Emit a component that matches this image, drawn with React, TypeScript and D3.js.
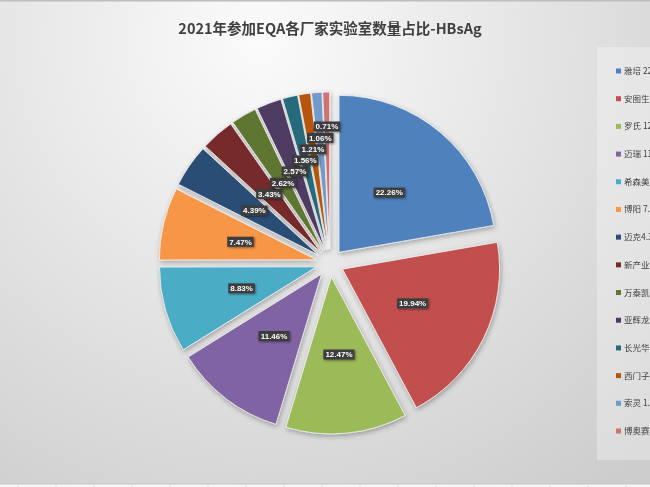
import * as d3 from 'd3';
import * as React from 'react';

const { useRef, useEffect } = React;

const width = 650;
const height = 487;

const title = '2021年参加EQA各厂家实验室数量占比-HBsAg';

const vendors = [
  '雅培',
  '安图生物',
  '罗氏',
  '迈瑞',
  '希森美康',
  '博阳',
  '迈克',
  '新产业',
  '万泰凯瑞',
  '亚辉龙',
  '长光华医',
  '西门子',
  '索灵',
  '博奥赛斯',
];

const shares = [22.26, 19.94, 12.47, 11.46, 8.83, 7.47, 4.39, 3.43, 2.62, 2.57, 1.56, 1.21, 1.06, 0.71];

const colors = [
  '#4f81bd',
  '#c0504d',
  '#9bbb59',
  '#8064a2',
  '#4bacc6',
  '#f79646',
  '#2c4d75',
  '#772c2a',
  '#5f7530',
  '#4d3b62',
  '#276a7c',
  '#b65708',
  '#729aca',
  '#cd7371',
];

const center = { x: 330, y: 263 };
const radius = 157;
const explode = 14;
const labelRadius = 92;

const legendBox = { x: 597, y: 47, w: 70, h: 413 };

export default () => {
  const rootRef = useRef<HTMLDivElement>(null);

  useEffect(() => {
    const rootEl = rootRef.current;
    if (!rootEl) return;
    d3.select(rootEl).selectAll('*').remove();

    const svg = d3
      .select(rootEl)
      .append('svg')
      .attr('width', width)
      .attr('height', height)
      .style('position', 'fixed')
      .style('left', 0)
      .style('top', 0)
      .attr('font-family', '"Noto Sans CJK SC", "Noto Sans", sans-serif');

    const defs = svg.append('defs');
    const bg = defs
      .append('radialGradient')
      .attr('id', 'bg')
      .attr('gradientUnits', 'userSpaceOnUse')
      .attr('cx', 260)
      .attr('cy', 40)
      .attr('r', 560);
    bg.append('stop').attr('offset', 0).attr('stop-color', '#fbfbfb');
    bg.append('stop').attr('offset', 1).attr('stop-color', '#cdcdcd');

    const shadow = defs.append('filter').attr('id', 'shadow').attr('x', '-20%').attr('y', '-20%').attr('width', '140%').attr('height', '140%');
    shadow
      .append('feDropShadow')
      .attr('dx', 1)
      .attr('dy', 2)
      .attr('stdDeviation', 2.5)
      .attr('flood-color', '#000')
      .attr('flood-opacity', 0.3);

    const boxShadow = defs.append('filter').attr('id', 'boxShadow').attr('x', '-20%').attr('y', '-40%').attr('width', '150%').attr('height', '190%');
    boxShadow
      .append('feDropShadow')
      .attr('dx', 1)
      .attr('dy', 1)
      .attr('stdDeviation', 0.8)
      .attr('flood-color', '#000')
      .attr('flood-opacity', 0.45);

    svg.append('rect').attr('width', width).attr('height', height).attr('fill', 'url(#bg)');
    svg.append('rect').attr('width', width).attr('height', 1.5).attr('fill', '#bdbdbd');

    // spreadsheet strip under the chart
    svg.append('rect').attr('y', 484).attr('width', width).attr('height', 3).attr('fill', '#f7f7f7');
    svg.append('line').attr('x1', 0).attr('x2', width).attr('y1', 484).attr('y2', 484).attr('stroke', '#c6c6c6');
    svg
      .append('g')
      .selectAll('line')
      .data(d3.range(18, width, 38))
      .join('line')
      .attr('x1', d => d)
      .attr('x2', d => d)
      .attr('y1', 484)
      .attr('y2', 487)
      .attr('stroke', '#dadada');

    svg
      .append('text')
      .attr('x', 330)
      .attr('y', 34)
      .attr('text-anchor', 'middle')
      .attr('font-size', 14.5)
      .attr('font-weight', 'bold')
      .attr('fill', '#404040')
      .text(title);

    const pie = d3
      .pie<number>()
      .sort(null)
      .value(d => d);
    const arcs = pie(shares);
    const arc = d3.arc<d3.PieArcDatum<number>>().innerRadius(0).outerRadius(radius);
    const mid = (d: d3.PieArcDatum<number>) => (d.startAngle + d.endAngle) / 2;

    const pieG = svg
      .append('g')
      .attr('transform', `translate(${center.x},${center.y})`)
      .attr('filter', 'url(#shadow)');

    pieG
      .selectAll('path')
      .data(arcs)
      .join('path')
      .attr('transform', d => `translate(${explode * Math.sin(mid(d))},${-explode * Math.cos(mid(d))})`)
      .attr('d', arc)
      .attr('fill', (d, i) => colors[i])
      .attr('stroke', '#f2f2f2')
      .attr('stroke-width', 0.8);

    // data labels: best-fit, pushed outward along the ray when they collide
    const fmt = (v: number) => `${v.toFixed(2)}%`;
    const boxH = 10;
    const placed: { x: number; y: number; w: number }[] = [];
    const labels = arcs.map(d => {
      const a = mid(d);
      const w = fmt(d.data).length * 4.7 + 3;
      let r = labelRadius;
      const pos = () => ({ x: r * Math.sin(a), y: -r * Math.cos(a) });
      let p = pos();
      const hits = () =>
        placed.some(q => Math.abs(q.x - p.x) < (q.w + w) / 2 - 1 && Math.abs(q.y - p.y) < boxH + 1);
      while (hits() && r < radius + 40) {
        r += 0.5;
        p = pos();
      }
      placed.push({ x: p.x, y: p.y, w });
      return { ...p, w, text: fmt(d.data) };
    });

    const labelG = svg
      .append('g')
      .attr('transform', `translate(${center.x},${center.y})`)
      .selectAll('g')
      .data(labels)
      .join('g')
      .attr('transform', d => `translate(${d.x},${d.y})`);

    labelG
      .append('rect')
      .attr('x', d => -d.w / 2)
      .attr('y', -boxH / 2)
      .attr('width', d => d.w)
      .attr('height', boxH)
      .attr('fill', '#3d3d3d')
      .attr('filter', 'url(#boxShadow)');

    labelG
      .append('text')
      .attr('text-anchor', 'middle')
      .attr('dy', '0.35em')
      .attr('font-family', '"Liberation Sans", Arial, sans-serif')
      .attr('font-size', 8)
      .attr('font-weight', 'bold')
      .attr('fill', '#ffffff')
      .text(d => d.text);

    // legend
    const legend = svg.append('g');
    legend
      .append('rect')
      .attr('x', legendBox.x)
      .attr('y', legendBox.y)
      .attr('width', legendBox.w)
      .attr('height', legendBox.h)
      .attr('fill', '#ffffff')
      .attr('fill-opacity', 0.3);

    const ly = d3
      .scalePoint<string>()
      .domain(vendors)
      .range([71, 431]);

    const item = legend
      .selectAll('g.item')
      .data(vendors)
      .join('g')
      .attr('class', 'item')
      .attr('transform', d => `translate(616,${ly(d)})`);

    item
      .append('rect')
      .attr('x', 0)
      .attr('y', -2.5)
      .attr('width', 5)
      .attr('height', 5)
      .attr('fill', (d, i) => colors[i]);

    item
      .append('text')
      .attr('x', 8)
      .attr('dy', '0.35em')
      .attr('font-size', 8.5)
      .attr('fill', '#404040')
      .text((d, i) => (i === 6 ? `${d}${fmt(shares[i])}` : `${d} ${fmt(shares[i])}`));
  }, []);

  return <div ref={rootRef} />;
};
